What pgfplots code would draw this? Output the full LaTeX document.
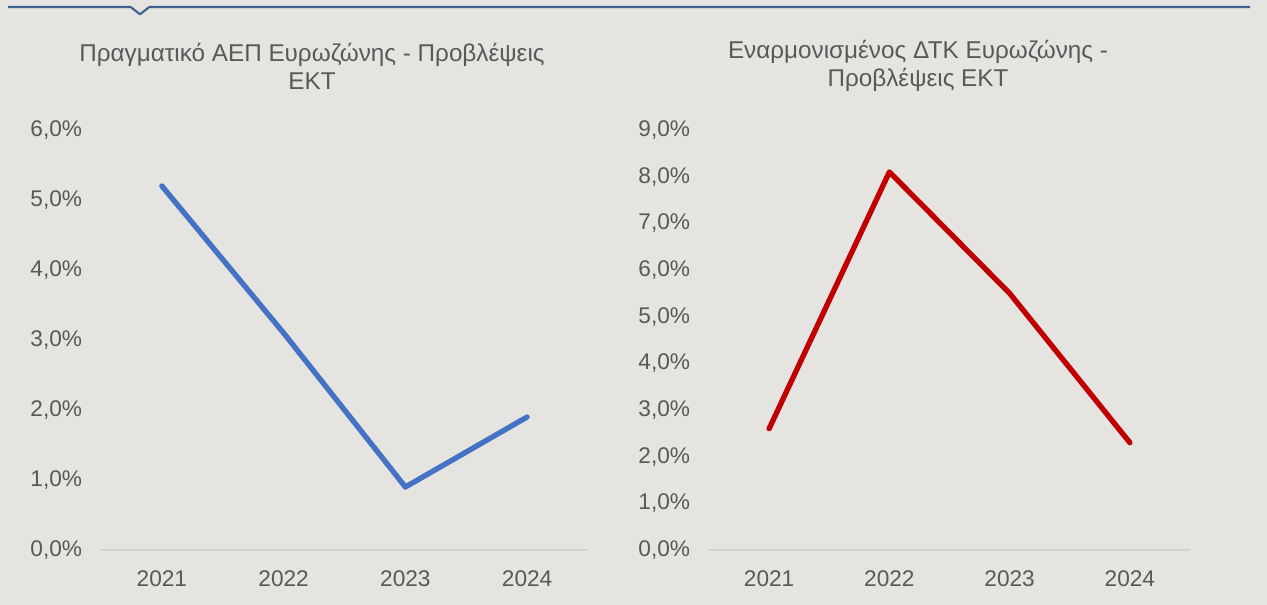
\documentclass[border=0pt]{standalone}
\usepackage{pgfplots}
\pgfplotsset{compat=1.18}
\usepackage{fontspec}
\setmainfont{Liberation Sans}
\definecolor{bg}{HTML}{E5E4E0}
\definecolor{txt}{HTML}{595959}
\definecolor{topline}{HTML}{3F6292}
\definecolor{axisgray}{HTML}{D5D3CF}
\definecolor{gdpblue}{HTML}{4472C4}
\definecolor{cpired}{HTML}{C00000}
\pgfplotsset{
  ecb/.style={
    scale only axis, height=315pt, clip=false,
    axis x line*=bottom, axis y line*=left,
    x axis line style={axisgray, line width=1pt},
    y axis line style={draw=none},
    major tick length=0pt,
    tick label style={font=\fontsize{17}{20}\selectfont, text=txt, inner sep=0pt},
    xticklabel shift=15pt, yticklabel shift=14pt,
    xtick={2021,2022,2023,2024},
    xticklabels={2021,2022,2023,2024},
    xmin=2020.5, xmax=2024.5, ymin=0,
    yticklabel={\pgfmathprintnumber{\tick}\%},
    /pgf/number format/.cd, fixed, fixed zerofill, precision=1, use comma,
    assume math mode=true,
  },
}
\begin{document}
\begin{tikzpicture}
\fill[bg] (0,0) rectangle (950.25pt,453.75pt);
\useasboundingbox (0,0) rectangle (950.25pt,453.75pt);
\draw[topline, line width=1.6pt, line join=round]
  (6pt,448.5pt) -- (98pt,448.5pt) -- (105pt,443pt) -- (112pt,448.5pt) -- (937.5pt,448.5pt);

\node[font=\fontsize{18.2}{21}\selectfont, text=txt, align=center] at (234pt,404.25pt)
  {Πραγματικό ΑΕΠ Ευρωζώνης - Προβλέψεις\\ΕΚΤ};
\node[font=\fontsize{18.2}{21}\selectfont, text=txt, align=center] at (688.5pt,404.25pt)
  {Εναρμονισμένος ΔΤΚ Ευρωζώνης -\\Προβλέψεις ΕΚΤ};

\begin{axis}[ecb, at={(75.75pt,41.25pt)}, anchor=south west, width=365.25pt,
  ymax=6, ytick={0,1,2,3,4,5,6}]
\addplot[gdpblue, line width=4pt, line cap=round, line join=round]
  coordinates {(2021,5.2) (2022,3.1) (2023,0.9) (2024,1.9)};
\end{axis}

\begin{axis}[ecb, at={(531.75pt,41.25pt)}, anchor=south west, width=360.75pt,
  ymax=9, ytick={0,1,2,3,4,5,6,7,8,9}]
\addplot[cpired, line width=4pt, line cap=round, line join=round]
  coordinates {(2021,2.6) (2022,8.1) (2023,5.5) (2024,2.3)};
\end{axis}
\end{tikzpicture}
\end{document}
